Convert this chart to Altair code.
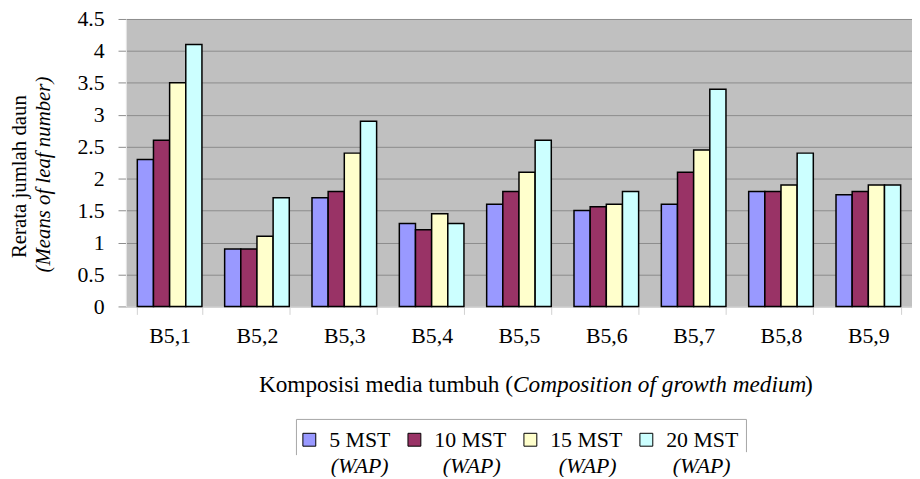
import altair as alt
import pandas as pd

categories = ["B5,1", "B5,2", "B5,3", "B5,4", "B5,5", "B5,6", "B5,7", "B5,8", "B5,9"]
series = ["5 MST", "10 MST", "15 MST", "20 MST"]
v5 = [2.3, 0.9, 1.7, 1.3, 1.6, 1.5, 1.6, 1.8, 1.75]
v10 = [2.6, 0.9, 1.8, 1.2, 1.8, 1.56, 2.1, 1.8, 1.8]
v15 = [3.5, 1.1, 2.4, 1.45, 2.1, 1.6, 2.45, 1.9, 1.9]
v20 = [4.1, 1.7, 2.9, 1.3, 2.6, 1.8, 3.4, 2.4, 1.9]
colors = ["#9999FF", "#993366", "#FFFFCC", "#CCFFFF"]
y_ticks = [0, 0.5, 1, 1.5, 2, 2.5, 3, 3.5, 4, 4.5]
wap_label = "(WAP)"

FONT = "Liberation Serif"

rows = []
for s, vals in zip(series, [v5, v10, v15, v20]):
    for c, v in zip(categories, vals):
        rows.append({"cat": c, "series": s, "value": v})
df = pd.DataFrame(rows)

bars = alt.Chart(df).mark_bar(stroke="black", strokeWidth=1.5).encode(
    x=alt.X(
        "cat:N", sort=categories,
        scale=alt.Scale(paddingInner=0.26, paddingOuter=0.13),
        axis=alt.Axis(title=None, labelAngle=0, labelFontSize=22, tickBand="extent",
                      tickSize=8, tickColor="#d0d0d0", domainColor="#e0e0e0",
                      labelPadding=11, grid=False),
    ),
    xOffset=alt.XOffset("series:N", sort=series,
                        scale=alt.Scale(paddingInner=0, paddingOuter=0)),
    y=alt.Y(
        "value:Q",
        scale=alt.Scale(domain=[0, 4.5], nice=False),
        axis=alt.Axis(title=None, values=y_ticks, format="~g", labelFontSize=22,
                      grid=True, gridColor="#8c8c8c", gridWidth=1,
                      tickColor="#8c8c8c", tickSize=8, domainColor="#e6e6e6",
                      labelPadding=14),
    ),
    color=alt.Color(
        "series:N", sort=series,
        scale=alt.Scale(domain=series, range=colors),
        legend=alt.Legend(orient="none", legendX=174, legendY=413.5,
                          direction="horizontal", title=None, symbolType="square",
                          symbolSize=169, symbolStrokeColor="black",
                          symbolStrokeWidth=1, labelFont=FONT, labelFontSize=22,
                          labelColor="black", labelOffset=9, columnPadding=13,
                          padding=0),
    ),
)

one = pd.DataFrame({"a": [0]})

ytitle1 = alt.Chart(pd.DataFrame({"t": ["Rerata jumlah daun"]})).mark_text(
    font=FONT, fontSize=21, angle=270, align="center", baseline="middle", color="black"
).encode(x=alt.value(-107), y=alt.value(159), text="t:N")

ytitle2 = alt.Chart(pd.DataFrame({"t": ["(Means of leaf number)"]})).mark_text(
    font=FONT, fontSize=21, fontStyle="italic", angle=270, align="center",
    baseline="middle", color="black"
).encode(x=alt.value(-83), y=alt.value(157), text="t:N")

xt1 = alt.Chart(pd.DataFrame({"t": ["Komposisi media tumbuh ("]})).mark_text(
    font=FONT, fontSize=23.5, align="right", baseline="alphabetic", color="black"
).encode(x=alt.value(390.5), y=alt.value(376), text="t:N")

xt2 = alt.Chart(pd.DataFrame({"t": ["Composition of growth medium"]})).mark_text(
    font=FONT, fontSize=23.5, fontStyle="italic", align="left", baseline="alphabetic",
    color="black"
).encode(x=alt.value(390.5), y=alt.value(376), text="t:N")

xt3 = alt.Chart(pd.DataFrame({"t": [")"]})).mark_text(
    font=FONT, fontSize=23.5, align="left", baseline="alphabetic", color="black"
).encode(x=alt.value(685), y=alt.value(376), text="t:N")

wap_layers = []
for xp in [265, 378, 495, 610]:
    wap_layers.append(
        alt.Chart(pd.DataFrame({"t": [wap_label]})).mark_text(
            font=FONT, fontSize=22, fontStyle="italic", align="right",
            baseline="alphabetic", color="black"
        ).encode(x=alt.value(xp), y=alt.value(458), text="t:N")
    )

box_top = alt.Chart(one).mark_rule(color="#a6a6a6", strokeWidth=1).encode(
    x=alt.value(172), x2=alt.value(626), y=alt.value(404))
box_left = alt.Chart(one).mark_rule(color="#a6a6a6", strokeWidth=1).encode(
    x=alt.value(172), y=alt.value(404), y2=alt.value(440))
box_right = alt.Chart(one).mark_rule(color="#a6a6a6", strokeWidth=1).encode(
    x=alt.value(626), y=alt.value(404), y2=alt.value(437))

chart = alt.layer(
    bars, ytitle1, ytitle2, xt1, xt2, xt3, *wap_layers, box_top, box_left, box_right
).properties(
    width=793, height=290,
    autosize=alt.AutoSizeParams(type="none"),
    padding={"left": 119, "top": 9, "right": 0, "bottom": 170},
).configure_view(
    fill="#c0c0c0", strokeWidth=0
).configure_axis(
    labelFont=FONT, labelColor="black"
)

chart.save("out.html", embed_options={"renderer": "svg", "actions": False})
